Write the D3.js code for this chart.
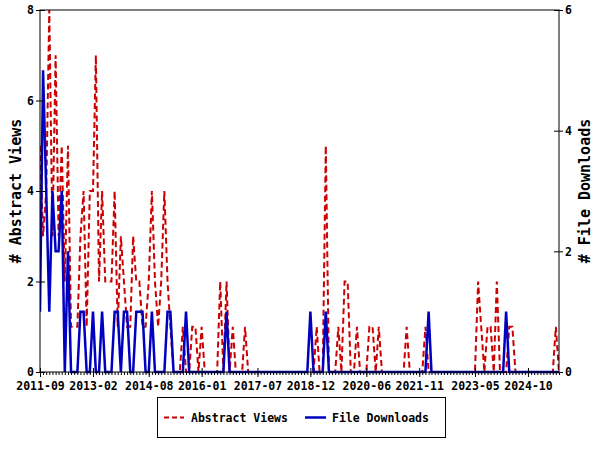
<!DOCTYPE html>
<html>
<head>
<meta charset="utf-8">
<script src="https://cdn.jsdelivr.net/npm/d3@7"></script>
<style>
  html, body { margin: 0; padding: 0; background: #fff; }
  svg { display: block; }
  text { font-family: "DejaVu Sans Mono", "Liberation Mono", monospace; }
</style>
</head>
<body>
<svg id="chart" width="600" height="450"></svg>
<script>
// ---- data (monthly, starting 2011-09) ----
const startMonth = "2011-09";
const endMonth = "2025-08";
const abstractViews = [
  5,3,4,8,3,7,3,5,2,5,
  1,1,1,3,4,1,4,4,7,2,
  4,2,2,2,4,1,3,2,1,1,
  3,2,2,1,1,2,4,2,1,2,
  4,2,1,0,0,0,1,0,0,1,
  1,0,1,0,0,0,0,0,2,0,
  2,0,1,0,0,0,1,0,0,0,
  0,0,0,0,0,0,0,0,0,0,
  0,0,0,0,0,0,0,0,0,1,
  0,0,5,0,0,0,1,0,2,2,
  0,0,1,0,0,0,1,1,0,1,
  0,0,0,0,0,0,0,0,1,0,
  0,0,0,0,1,0,0,0,0,0,
  0,0,0,0,0,0,0,0,0,0,
  0,2,1,0,1,1,0,2,0,0,
  0,1,1,0,0,0,0,0,0,0,
  0,0,0,0,0,0,1,0
];
const fileDownloads = [
  1,5,3,1,3,2,2,3,0,2,
  0,0,0,1,1,0,0,1,0,0,
  1,0,0,0,1,1,0,1,1,0,
  0,1,1,1,0,0,1,0,0,0,
  0,1,1,0,0,0,0,1,0,0,
  0,0,0,0,0,0,0,0,0,0,
  1,0,0,0,0,0,0,0,0,0,
  0,0,0,0,0,0,0,0,0,0,
  0,0,0,0,0,0,0,1,0,0,
  0,0,1,0,0,0,0,0,0,0,
  0,0,0,0,0,0,0,0,0,0,
  0,0,0,0,0,0,0,0,0,0,
  0,0,0,0,0,1,0,0,0,0,
  0,0,0,0,0,0,0,0,0,0,
  0,0,0,0,0,0,0,0,0,0,
  1,0,0,0,0,0,0,0,0,0,
  0,0,0,0,0,0,0,0
];
const xTickLabels = ["2011-09","2013-02","2014-08","2016-01","2017-07","2018-12","2020-06","2021-11","2023-05","2024-10"];
const leftTicks = [0,2,4,6,8];
const rightTicks = [0,2,4,6];
const seriesNames = ["Abstract Views","File Downloads"];

// ---- layout ----
const W = 600, H = 450;
const m = {left: 40, right: 559, top: 10, bottom: 372};
const parseM = d3.timeParse("%Y-%m");
const months = d3.timeMonth.range(parseM(startMonth), d3.timeMonth.offset(parseM(endMonth), 1));

const x = d3.scaleTime().domain([parseM(startMonth), parseM(endMonth)]).range([m.left, m.right]);
const yL = d3.scaleLinear().domain([0, 8]).range([m.bottom, m.top]);
const yR = d3.scaleLinear().domain([0, 6]).range([m.bottom, m.top]);

const svg = d3.select("#chart");
svg.append("rect").attr("width", W).attr("height", H).attr("fill", "#fff");

svg.append("defs").append("clipPath").attr("id", "clip")
  .append("rect").attr("x", m.left).attr("y", m.top - 2)
  .attr("width", m.right - m.left).attr("height", m.bottom - m.top + 4);

const redColor = "#cc0000", blueColor = "#0000c0";

const lineL = d3.line().x((d, i) => x(months[i])).y(d => yL(d));
const lineR = d3.line().x((d, i) => x(months[i])).y(d => yR(d));

const g = svg.append("g").attr("clip-path", "url(#clip)");
g.append("path").datum(abstractViews)
  .attr("d", lineL).attr("fill", "none")
  .attr("stroke", redColor).attr("stroke-width", 2)
  .attr("stroke-dasharray", "6,3.5");
g.append("path").datum(fileDownloads)
  .attr("d", lineR).attr("fill", "none")
  .attr("stroke", blueColor).attr("stroke-width", 2.5)
  .attr("stroke-linejoin", "miter");

// ---- frame ----
svg.append("rect").attr("x", m.left).attr("y", m.top)
  .attr("width", m.right - m.left).attr("height", m.bottom - m.top)
  .attr("fill", "none").attr("stroke", "#000").attr("stroke-width", 1);

// ---- x axis: monthly minor ticks + labelled major ticks ----
const xAxisMinor = d3.axisBottom(x).tickValues(months).tickSize(3).tickFormat("");
const gxm = svg.append("g").attr("transform", `translate(0,${m.bottom})`).call(xAxisMinor);
gxm.select(".domain").remove();
gxm.selectAll("line").attr("stroke", "#000");

const majorDates = xTickLabels.map(parseM);
const xAxisMajor = d3.axisBottom(x).tickValues(majorDates).tickSize(5).tickPadding(5)
  .tickFormat(d3.timeFormat("%Y-%m"));
const gx = svg.append("g").attr("transform", `translate(0,${m.bottom})`).call(xAxisMajor);
gx.select(".domain").remove();
gx.selectAll("line").attr("stroke", "#000").attr("y1", -4);
gx.selectAll("text").attr("fill", "#000")
  .style("font-family", '"DejaVu Sans Mono", monospace')
  .style("font-weight", "bold").style("font-size", "11.5px");

// ---- left axis ----
const gl = svg.append("g").attr("transform", `translate(${m.left},0)`)
  .call(d3.axisLeft(yL).tickValues(leftTicks).tickSize(4).tickPadding(2).tickFormat(d3.format("d")));
gl.select(".domain").remove();
gl.selectAll("line").attr("stroke", "#000").attr("x2", -4).attr("x1", 5);
gl.selectAll("text").attr("fill", "#000")
  .style("font-family", '"DejaVu Sans Mono", monospace')
  .style("font-weight", "bold").style("font-size", "11.5px");

// ---- right axis ----
const gr = svg.append("g").attr("transform", `translate(${m.right},0)`)
  .call(d3.axisRight(yR).tickValues(rightTicks).tickSize(4).tickPadding(2).tickFormat(d3.format("d")));
gr.select(".domain").remove();
gr.selectAll("line").attr("stroke", "#000").attr("x1", -5).attr("x2", 4);
gr.selectAll("text").attr("fill", "#000")
  .style("font-family", '"DejaVu Sans Mono", monospace')
  .style("font-weight", "bold").style("font-size", "11.5px");

// ---- axis titles ----
const midY = (m.top + m.bottom) / 2;
svg.append("text").attr("transform", `translate(21,${midY}) rotate(-90)`)
  .attr("text-anchor", "middle").attr("fill", "#000")
  .style("font-size", "15px").style("font-weight", "bold")
  .text("# " + seriesNames[0]);
svg.append("text").attr("transform", `translate(590,${midY}) rotate(-90)`)
  .attr("text-anchor", "middle").attr("fill", "#000")
  .style("font-size", "15px").style("font-weight", "bold")
  .text("# " + seriesNames[1]);

// ---- legend ----
const lg = svg.append("g");
lg.append("rect").attr("x", 157.5).attr("y", 397.5).attr("width", 288).attr("height", 40)
  .attr("fill", "#fff").attr("stroke", "#000").attr("stroke-width", 1);
lg.append("line").attr("x1", 164).attr("x2", 184).attr("y1", 417.5).attr("y2", 417.5)
  .attr("stroke", redColor).attr("stroke-width", 2).attr("stroke-dasharray", "5,3");
lg.append("text").attr("x", 191).attr("y", 421.5).attr("fill", "#000")
  .style("font-size", "11.5px").style("font-weight", "bold").text(seriesNames[0]);
lg.append("line").attr("x1", 305).attr("x2", 326).attr("y1", 417.5).attr("y2", 417.5)
  .attr("stroke", blueColor).attr("stroke-width", 2.5);
lg.append("text").attr("x", 332).attr("y", 421.5).attr("fill", "#000")
  .style("font-size", "11.5px").style("font-weight", "bold").text(seriesNames[1]);
</script>
</body>
</html>
